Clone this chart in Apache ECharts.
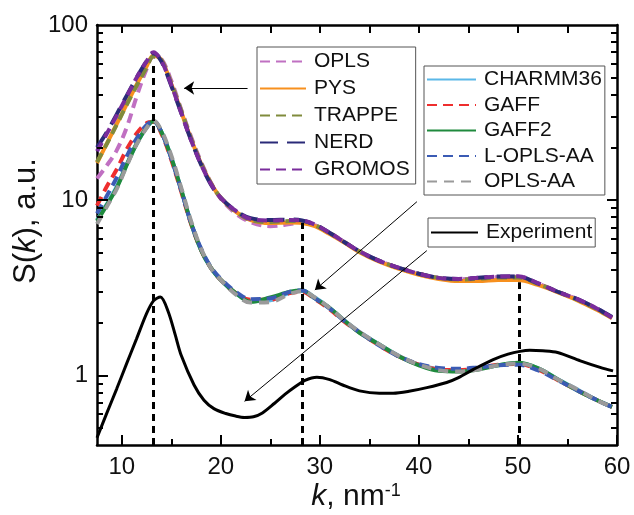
<!DOCTYPE html>
<html><head><meta charset="utf-8">
<script src="https://cdn.jsdelivr.net/npm/echarts@6/dist/echarts.min.js"></script>
<style>html,body{margin:0;padding:0;background:#fff}#c{width:634px;height:515px}</style>
</head><body><div id="c"></div>
<script>
// ---- data ----
const simK = [7.5, 8.5, 9.5, 10.5, 11.5, 12.5, 13.2, 14, 15, 16, 17, 18, 19, 20, 21.5, 23, 25, 27, 28.2, 29.5, 31, 32.5, 34, 36, 38, 40, 42, 44, 46, 48, 50, 52, 54, 56, 58, 59.5];
const opls    = [13.3, 15.8, 19.3, 26, 39, 56, 66, 64, 48, 33, 23, 16.6, 12.6, 10.2, 8.4, 7.5, 7.1, 7.3, 7.5, 7.2, 6.5, 5.75, 5.1, 4.5, 4.1, 3.8, 3.6, 3.53, 3.58, 3.64, 3.65, 3.35, 3.0, 2.72, 2.4, 2.14];
const pys     = [16.3, 21.1, 27.3, 35.3, 45.7, 58, 67, 63, 46, 32, 22.3, 16.2, 12.5, 10.3, 8.6, 7.7, 7.4, 7.45, 7.4, 7.1, 6.4, 5.7, 5.05, 4.45, 4.05, 3.75, 3.55, 3.45, 3.45, 3.5, 3.5, 3.28, 2.98, 2.68, 2.36, 2.12];
const trappe  = [16.5, 21, 27, 35, 45, 57, 66, 63, 46.5, 32.5, 22.5, 16.3, 12.5, 10.3, 8.6, 7.7, 7.5, 7.6, 7.6, 7.2, 6.5, 5.75, 5.1, 4.5, 4.1, 3.8, 3.6, 3.52, 3.56, 3.62, 3.62, 3.33, 3.0, 2.7, 2.38, 2.13];
const nerd    = [20, 24.5, 31, 39.5, 50, 62, 69, 62, 45, 31.5, 22, 16, 12.3, 10.3, 8.7, 7.9, 7.7, 7.75, 7.65, 7.25, 6.5, 5.75, 5.1, 4.5, 4.1, 3.8, 3.6, 3.55, 3.6, 3.66, 3.66, 3.35, 3.0, 2.72, 2.4, 2.15];
const gromos  = [19, 24, 30.5, 39, 50, 62, 70, 62.5, 45.5, 31.5, 22, 16, 12.4, 10.3, 8.7, 7.8, 7.65, 7.7, 7.65, 7.25, 6.5, 5.75, 5.1, 4.5, 4.1, 3.8, 3.6, 3.55, 3.6, 3.66, 3.68, 3.36, 3.0, 2.72, 2.4, 2.13];
const charmm  = [7.7, 9.5, 12, 16, 21, 26, 28.2, 24.6, 17.5, 11.5, 7.4, 5.2, 4.1, 3.5, 2.95, 2.65, 2.68, 2.97, 3.05, 2.78, 2.42, 2.05, 1.77, 1.5, 1.29, 1.15, 1.08, 1.06, 1.09, 1.14, 1.17, 1.1, 0.95, 0.83, 0.72, 0.66];
const gaff    = [9.3, 12, 15, 19.5, 24, 27.5, 28, 24, 17, 11.2, 7.3, 5.2, 4.1, 3.5, 2.95, 2.7, 2.7, 2.95, 3.0, 2.72, 2.38, 2.02, 1.76, 1.48, 1.28, 1.15, 1.08, 1.07, 1.1, 1.15, 1.16, 1.08, 0.94, 0.82, 0.72, 0.66];
const gaff2   = [7.6, 9.4, 11.8, 15.9, 21, 26, 28.2, 24.5, 17.5, 11.5, 7.4, 5.2, 4.1, 3.5, 2.95, 2.63, 2.78, 3.0, 3.05, 2.75, 2.42, 2.05, 1.75, 1.5, 1.28, 1.14, 1.06, 1.05, 1.08, 1.14, 1.18, 1.1, 0.95, 0.82, 0.72, 0.66];
const loplsaa = [8.4, 10.6, 13.5, 17.8, 22.5, 26.8, 28.3, 24.5, 17.3, 11.4, 7.4, 5.3, 4.15, 3.55, 3.0, 2.72, 2.75, 3.0, 3.05, 2.75, 2.4, 2.04, 1.76, 1.48, 1.28, 1.16, 1.1, 1.09, 1.11, 1.14, 1.15, 1.07, 0.94, 0.82, 0.72, 0.66];
const oplsaa  = [7.3, 9.2, 11.6, 15.7, 20.8, 25.8, 28.4, 25, 18, 11.8, 7.6, 5.3, 4.1, 3.5, 2.9, 2.6, 2.62, 2.92, 3.02, 2.78, 2.42, 2.05, 1.77, 1.5, 1.29, 1.15, 1.07, 1.05, 1.08, 1.14, 1.17, 1.1, 0.95, 0.83, 0.72, 0.66];

const expK = [7.5, 8.5, 9.5, 10.5, 11.5, 12.5, 13.2, 13.9, 14.7, 15.4, 16, 17.3, 18.3, 19.3, 20.5, 21.5, 22.4, 23.3, 24.2, 25.4, 26.5, 27.5, 28.5, 29.7, 31, 32.3, 34, 36, 37.4, 39, 40.8, 42.8, 44, 45.5, 47.5, 49, 50.2, 51.2, 52.5, 54, 56.3, 58.3, 59.6];
const expV = [0.44, 0.61, 0.84, 1.17, 1.62, 2.25, 2.66, 2.8, 2.3, 1.7, 1.3, 0.88, 0.72, 0.645, 0.605, 0.585, 0.575, 0.58, 0.61, 0.69, 0.78, 0.86, 0.935, 0.975, 0.945, 0.88, 0.815, 0.79, 0.79, 0.81, 0.85, 0.91, 0.97, 1.08, 1.23, 1.32, 1.37, 1.39, 1.38, 1.35, 1.21, 1.11, 1.06];

// annotations (data coordinates)
const dropLines = [[13.2, 61], [28.2, 7.4], [50.1, 3.4]];
const arrows = [[[22.7, 43.7], [16.3, 43.7]], [[39.8, 9.8], [29.5, 3.07]], [[40.8, 5.15], [22.4, 0.71]]];

// ticks
const xLabelTicks = [10, 20, 30, 40, 50, 60];
const xMinorTicks = [15, 25, 35, 45, 55];
const xTopTicks = [10, 15, 20, 25, 30, 35, 40, 45, 50, 55];
const yMajorTicks = [1, 10];
const yMinorTicks = [0.5, 0.6, 0.7, 0.8, 0.9, 2, 3, 4, 5, 6, 7, 8, 9, 20, 30, 40, 50, 60, 70, 80, 90];
const yMin = 0.4, yMax = 100, xMin = 7.5, xMax = 60;

// ---- chart ----
const G = { left: 97, right: 17, top: 25, bottom: 70 }, W = 634, H = 515;
const pxPerX = (W - G.left - G.right) / (xMax - xMin);
const decPerPx = (Math.log10(yMax) - Math.log10(yMin)) / (H - G.top - G.bottom);
const dx = len => len / pxPerX;               // tick length (px) in x units
const fy = len => Math.pow(10, len * decPerPx); // tick length (px) as log-axis factor

const FONT = 'Liberation Sans, Arial, Helvetica, sans-serif';
const pairs = (xs, ys) => xs.map((x, i) => [x, ys[i]]);
function curve(name, ys, color, dash, width) {
  return {
    name, type: 'line', data: pairs(simK, ys), smooth: 0.35, symbol: 'none', showSymbol: false,
    lineStyle: { color, width: width || 4, type: dash || 'solid' }, itemStyle: { color },
    xAxisIndex: 0, yAxisIndex: 0, silent: true, z: 3
  };
}

const TICK = { color: '#000', width: 2, type: 'solid' };
const seg = (a, b, style) => [{ coord: a, symbol: 'none', lineStyle: style }, { coord: b, symbol: 'none' }];
const tickSegs = []
  .concat(xLabelTicks.map(v => seg([v, yMin], [v, yMin * fy(10)], TICK)))
  .concat(xMinorTicks.map(v => seg([v, yMin], [v, yMin * fy(6)], TICK)))
  .concat(xTopTicks.map(v => seg([v, yMax], [v, yMax / fy(8)], TICK)))
  .concat(yMajorTicks.map(v => seg([xMin, v], [xMin + dx(11), v], TICK)))
  .concat(yMinorTicks.map(v => seg([xMin, v], [xMin + dx(6), v], TICK)))
  .concat(yMajorTicks.map(v => seg([xMax, v], [xMax - dx(10), v], TICK)))
  .concat(yMinorTicks.map(v => seg([xMax, v], [xMax - dx(6), v], TICK)));

const series = [
  curve('OPLS', opls, '#c070c2', [10, 6]),
  curve('PYS', pys, '#f7901e', 'solid', 4),
  curve('TRAPPE', trappe, '#808b3c', [10, 6]),
  curve('NERD', nerd, '#2a2a78', [18, 9]),
  curve('GROMOS', gromos, '#7a2c9c', [10, 6]),
  curve('CHARMM36', charmm, '#5bb8e8', 'solid', 4),
  curve('GAFF', gaff, '#ee2e2e', [10, 6]),
  curve('GAFF2', gaff2, '#1f8a3d', 'solid', 4),
  curve('L-OPLS-AA', loplsaa, '#3b5bb4', [10, 6]),
  curve('OPLS-AA', oplsaa, '#9a9a9a', [10, 7]),
  {
    name: 'Experiment', type: 'line', data: pairs(expK, expV), smooth: 0.3, symbol: 'none', showSymbol: false,
    lineStyle: { color: '#000', width: 3 }, itemStyle: { color: '#000' }, silent: true, z: 4
  },
  {
    name: '_annot', type: 'line', data: [], silent: true, z: 5,
    markLine: {
      silent: true, animation: false, label: { show: false }, symbol: ['none', 'none'],
      data: dropLines.map(d => [
        { coord: [d[0], yMin], lineStyle: { color: '#000', width: 3, type: [7, 5] } },
        { coord: [d[0], d[1]] }
      ]).concat(arrows.map(a => [
        { coord: a[0], symbol: 'none', lineStyle: { color: '#000', width: 1, type: 'solid' } },
        { coord: a[1], symbol: 'arrow', symbolSize: 10 }
      ])).concat(tickSegs)
    }
  }
];

function legendBox(names, left, top, pad, gap, iw) {
  return {
    data: names, orient: 'vertical', left, top, padding: pad, itemGap: gap,
    itemWidth: iw, itemHeight: 14, selectedMode: false,
    backgroundColor: '#fff', borderColor: '#555', borderWidth: 1,
    itemStyle: { opacity: 0 },
    textStyle: { fontSize: 21, color: '#111', fontFamily: FONT, padding: [0, 0, 0, 3] }
  };
}

const axisLine = { show: true, onZero: false, lineStyle: { color: '#000', width: 2.5 } };
const option = {
  animation: false,
  backgroundColor: '#fff',
  grid: { left: G.left, right: G.right, top: G.top, bottom: G.bottom, containLabel: false },
  legend: [
    legendBox(['OPLS', 'PYS', 'TRAPPE', 'NERD', 'GROMOS'], 257, 47, [4, 6, 4, 2], 6, 46),
    legendBox(['CHARMM36', 'GAFF', 'GAFF2', 'L-OPLS-AA', 'OPLS-AA'], 424, 66, [3, 3, 3, 2], 4.5, 49),
    legendBox(['Experiment'], 428, 218, [4, 3, 4, 2], 0, 47)
  ],
  xAxis: [
    { type: 'value', position: 'bottom', min: xMin, max: xMax, axisLine,
      splitLine: { show: false }, axisTick: { show: false },
      axisLabel: { customValues: xLabelTicks, fontSize: 24, color: '#111', fontFamily: FONT, margin: 10 } },
    { type: 'value', position: 'top', min: xMin, max: xMax, axisLine,
      splitLine: { show: false }, axisLabel: { show: false }, axisTick: { show: false } }
  ],
  yAxis: [
    { type: 'log', logBase: 10, position: 'left', min: yMin, max: yMax, axisLine,
      splitLine: { show: false }, minorTick: { show: false }, minorSplitLine: { show: false },
      axisTick: { show: false },
      axisLabel: { showMinLabel: false, fontSize: 24, color: '#111', fontFamily: FONT, margin: 9 } },
    { type: 'log', logBase: 10, position: 'right', min: yMin, max: yMax, axisLine,
      splitLine: { show: false }, axisLabel: { show: false }, axisTick: { show: false } }
  ],
  graphic: [
    { type: 'text', x: 26, y: 221, rotation: Math.PI / 2,
      style: { text: '{n|S(}{i|k}{n|), a.u.}', align: 'center', verticalAlign: 'middle',
        rich: { n: { fontSize: 31, fontFamily: FONT, fill: '#111' }, i: { fontSize: 31, fontFamily: FONT, fontStyle: 'italic', fill: '#111' } } } },
    { type: 'text', x: 356, y: 497,
      style: { text: '{i|k}{n|, nm}{s|-1}', align: 'center', verticalAlign: 'middle',
        rich: { n: { fontSize: 30, fontFamily: FONT, fill: '#111' }, i: { fontSize: 30, fontFamily: FONT, fontStyle: 'italic', fill: '#111' },
          s: { fontSize: 18, fontFamily: FONT, fill: '#111', verticalAlign: 'top' } } } }
  ],
  series
};
const chart = echarts.init(document.getElementById('c'), null, { renderer: 'canvas' });
chart.setOption(option);
</script>
</body></html>
